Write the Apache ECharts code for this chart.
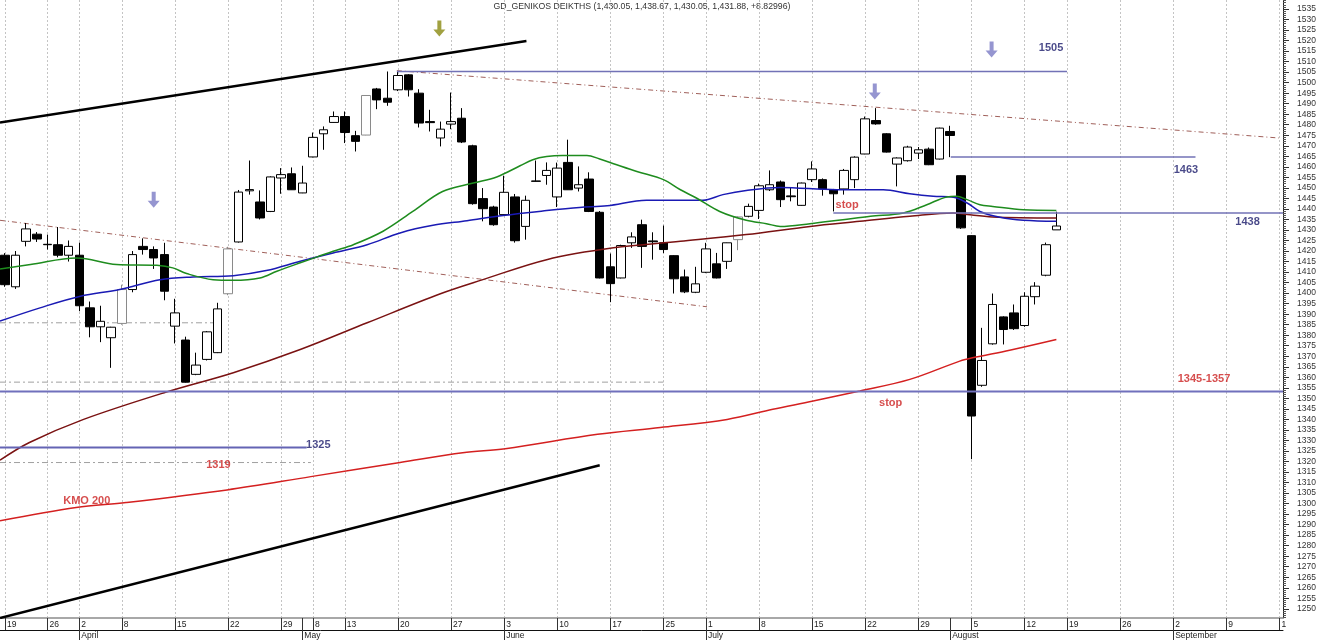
<!DOCTYPE html>
<html><head><meta charset="utf-8">
<script src="https://cdn.jsdelivr.net/npm/echarts@6/dist/echarts.min.js"></script>
<style>html,body{margin:0;padding:0;background:#fff}#c{width:1320px;height:640px}</style>
</head><body><div id="c"></div>
<script>
const titleText = 'GD_GENIKOS DEIKTHS (1,430.05, 1,438.67, 1,430.05, 1,431.88, +8.82996)';
// daily OHLC, one entry per trading-day slot (slot 0 = 19 March)
const opens  = [1418,1403,1424.6,1428,1423.2,1423,1418,1418,1393,1384,1378.8,1385.6,1401.7,1422.2,1420.7,1418.3,1384.3,1377.7,1361.4,1368.5,1371.7,1399.7,1424.3,1448.6,1443.3,1438.8,1454.7,1456.7,1447.6,1464.7,1475.7,1481.1,1483.9,1474.8,1475.1,1497,1492.6,1496.6,1503.7,1495,1481.5,1473.7,1480.3,1483.1,1470,1444.9,1440.9,1437.3,1445.7,1431.7,1453.3,1455.9,1445.7,1462.1,1449.9,1454.2,1438.4,1412.5,1407.2,1423.9,1432.5,1424.8,1423.9,1417.8,1407.7,1400.4,1409.9,1413.9,1415.1,1425.4,1436.5,1439.3,1449.1,1452.8,1446.2,1441.7,1453.9,1453.9,1449.1,1449.5,1453.9,1466.1,1482,1475.7,1461.3,1462.9,1466.5,1468.4,1463.7,1476.8,1455.8,1427.3,1356.2,1375.9,1388.7,1390.6,1384.6,1398.3,1408.5,1430.05];
const highs  = [1419,1420,1433.3,1429,1427.8,1431.4,1425,1424,1396,1394,1384,1404,1420,1426,1422.2,1423.9,1397.3,1379.3,1371.7,1382,1395.4,1422,1449,1463,1448.8,1455.5,1459.4,1459.7,1460.5,1476.3,1479.2,1486.3,1486.3,1477.1,1494,1497.5,1505.3,1505.3,1504,1496.9,1487.1,1481.5,1495.3,1487.9,1470.5,1449.9,1441.5,1455.8,1447.1,1446.3,1463,1462.1,1462,1472.9,1460.2,1457.4,1439,1418.8,1423,1428.9,1434.9,1428.9,1432.1,1418,1411.2,1412.5,1423.9,1419.1,1424,1436.5,1442.5,1452,1458.3,1453.5,1450.4,1452.5,1462.6,1454.5,1449.5,1459,1465,1483.9,1487.9,1476,1464.5,1470,1469.4,1469.2,1478.6,1479.5,1456,1427.5,1383.5,1399.8,1389,1394.6,1400.4,1405.2,1424,1438.67];
const lows   = [1403,1402,1422.2,1424.3,1420.7,1417,1415,1391.4,1379,1376.7,1364.5,1385,1400.4,1418.3,1411.5,1396.6,1376.1,1357.5,1361,1368,1371.5,1399,1424,1446.8,1435,1438.5,1447.2,1449,1447.5,1464.5,1468.1,1481,1471.3,1467.3,1475,1487.4,1489,1496,1493.4,1478.7,1476.8,1469.7,1477.9,1471.3,1442,1434.1,1432,1437,1424,1425.4,1453,1451.5,1440.9,1449,1448.3,1438.5,1407,1395.7,1407,1421.5,1412,1415.9,1419,1399.8,1400,1400,1409.5,1407,1411.5,1420.4,1436,1435.2,1448.5,1440.9,1443.6,1441.5,1452.8,1446.3,1438.8,1446.8,1449.9,1466,1480,1466.8,1450.7,1462.5,1463.7,1460.8,1463.5,1464.6,1430.5,1321.1,1355.5,1375.5,1375.6,1382.5,1384,1394.6,1408,1430.05];
const closes = [1404,1418,1430.5,1425.7,1423,1418,1422.2,1394,1384,1386.6,1383.8,1401.7,1418.3,1420.7,1416.7,1400.9,1390.6,1357.7,1365.8,1381.6,1392.5,1421,1448,1449.2,1435.7,1455.2,1456.3,1449.1,1452.3,1474,1477.6,1483.9,1476.3,1472.1,1493.9,1491.8,1490.7,1503.4,1496.6,1480.8,1481,1477.9,1481.5,1471.8,1442.5,1440.1,1432.5,1447.9,1424.9,1444.1,1453.1,1458.3,1459.4,1449.1,1451.5,1438.8,1407.2,1404.5,1422.6,1426.7,1422.2,1424.4,1420.7,1406.8,1400.6,1404.4,1421,1407.2,1423.9,1436.2,1441.2,1451,1451.5,1444.4,1445.8,1452.3,1459,1449.5,1447.2,1458.3,1464.6,1482.8,1480.4,1467,1464.2,1469.4,1468.1,1461,1478.4,1474.9,1431,1341.6,1368,1394.6,1382.7,1383.1,1398.5,1403.3,1423,1431.88];
const greyCandles = [11, 21, 34, 69];

// axis labels
const weekTicks  = [0,4,7,11,16,21,26,29,32,37,42,47,52,57,62,66,71,76,81,86,91,96,100,105,110,115,120];
const weekLabels = ['19','26','2','8','15','22','29','8','13','20','27','3','10','17','25','1','8','15','22','29','5','12','19','26','2','9','1'];
const monthTicks  = [7,28,47,66,89,110];
const monthLabels = ['April','May','June','July','August','September'];
const yLabelValues = []; for (let v = 1250; v <= 1535; v += 5) yLabelValues.push(v);
const yMinorValues = []; for (let v = 1246; v <= 1539; v += 1) if (v % 5) yMinorValues.push(v);

// moving averages: [slot, value]
const ma20 = [[-0.47,1411.5],[2.4,1413.6],[6.75,1416.7],[10.5,1413.6],[14.3,1413.2],[15.8,1412.0],[17.1,1409.3],[19.6,1406.4],[21.5,1406.1],[24.0,1407.2],[25.6,1410.4],[27.8,1414.4],[29.4,1417.2],[30.9,1419.9],[32.8,1423.0],[35.6,1429.4],[38.4,1438.8],[41.2,1448.3],[44.1,1452.3],[46.3,1455.2],[48.5,1460.5],[49.7,1463.4],[51.0,1464.9],[52.5,1465.4],[54.8,1465.4],[56.0,1463.7],[57.3,1461.5],[59.5,1457.8],[62.0,1453.9],[63.6,1449.1],[65.1,1445.2],[67.3,1438.8],[69.8,1434.6],[71.7,1433.0],[73.0,1431.7],[75.8,1433.0],[78.9,1434.9],[81.5,1436.5],[84.6,1438.1],[86.8,1442.0],[88.7,1445.7],[89.6,1446.0],[90.6,1444.4],[91.8,1442.0],[93.0,1441.2],[95.9,1439.6],[99.0,1439.3]];
const ma50 = [[-0.47,1386.7],[3.3,1393.0],[7.1,1398.5],[10.8,1401.7],[14.6,1406.4],[17.7,1407.7],[21.5,1408.3],[24.6,1410.7],[27.8,1415.1],[30.9,1419.1],[34.1,1423.0],[37.2,1428.6],[40.3,1432.2],[43.5,1434.4],[46.9,1436.9],[51.0,1439.2],[54.1,1440.7],[56.7,1441.5],[60.4,1444.1],[65.7,1444.1],[67.6,1446.8],[69.8,1448.8],[73.0,1450.2],[78.3,1449.1],[82.7,1449.1],[85.2,1447.2],[87.4,1446.0],[89.3,1445.5],[90.6,1442.8],[91.8,1438.8],[93.7,1436.0],[95.9,1434.6],[99.0,1434.1]];
const ma100 = [[-0.47,1320.6],[2.3,1329.0],[7.4,1340.0],[15.2,1353.0],[21.5,1362.2],[27.8,1373.2],[34.1,1385.9],[41.0,1399.7],[45.0,1406.4],[51.0,1415.9],[57.3,1421.5],[63.6,1424.6],[69.8,1427.8],[75.8,1431.7],[80.5,1434.1],[85.2,1436.5],[89.3,1438.1],[90.6,1437.3],[93.0,1436.2],[99.0,1435.7]];
const ma200 = [[-0.47,1291.8],[6.7,1298.1],[11.4,1300.5],[20.9,1306.5],[28.8,1312.8],[37.2,1319.5],[43.1,1324.2],[47.1,1326.1],[55.8,1332.9],[61.7,1336.1],[68.0,1340.0],[72.3,1344.8],[76.1,1348.7],[80.5,1353.5],[85.2,1359.0],[89.9,1367.7],[91.1,1369.3],[94.6,1372.9],[99.0,1378.0]];

// drawn trendlines and levels: [slot, value] end points
const upperTrend = [[-0.47,1481.1],[49.1,1519.8]];
const lowerTrend = [[-0.47,1245.6],[56.0,1318.2]];
const upperDash  = [[36.9,1505.7],[119.96,1473.7]];
const lowerDash  = [[-0.47,1434.6],[66.1,1393.5]];
const level1505  = [[36.9,1505.3],[100,1505.3]];
const level1463  = [[89.05,1464.7],[112.1,1464.7]];
const level1438  = [[78,1438.1],[120.34,1438.1]];
const level1353  = [[-0.47,1353.2],[120.34,1353.2]];
const level1325  = [[-0.47,1326.6],[28.4,1326.6]];
const grey1386   = [[-0.47,1385.9],[20.4,1385.9]];
const grey1357   = [[-0.47,1357.7],[62.0,1357.7]];
const grey1319   = [[-0.47,1319.5],[28.8,1319.5]];

const blueArrows  = [[14.0,1444.4],[81.9,1495.8],[92.9,1515.8]];
const oliveArrows = [[40.9,1525.7]];
const navyNotes = [[98.5,1516.7,'1505'],[111.2,1458.6,'1463'],[117.0,1433.7,'1438'],[29.5,1327.9,'1325']];
const redNotes  = [[112.9,1359.0,'1345-1357'],[20.1,1318.2,'1319'],[7.7,1301.1,'KMO 200'],[79.3,1441.8,'stop'],[83.4,1347.6,'stop']];

const FONT = "'Liberation Sans', Arial, sans-serif";
const XMIN = -0.471, XMAX = 120.34, YMIN = 1245.63, YMAX = 1539.27;

const candleData = opens.map((o, i) => {
  const item = { value: [i, o, closes[i], lows[i], highs[i]] };
  if (greyCandles.includes(i)) item.itemStyle = { borderColor: '#8a8a8a' };
  return item;
});

function seg(data, color, width, type, z) {
  return { type: 'line', data: data, showSymbol: false, symbol: 'none', silent: true, z: z || 5,
    lineStyle: { color: color, width: width, type: type || 'solid' }, animation: false };
}
function maLine(data, color) {
  return { type: 'line', data: data, showSymbol: false, symbol: 'none', smooth: 0.35, silent: true, z: 4,
    lineStyle: { color: color, width: 1.5 }, animation: false };
}
const arrowPath = 'path://M4,0 L8,0 L8,9 L12,9 L6,16 L0,9 L4,9 Z';
function notes(data, color) {
  return { type: 'scatter', data: data, symbolSize: 0, silent: true, z: 10,
    label: { show: true, position: 'inside', formatter: p => p.value[2], color: color,
      fontWeight: 'bold', fontSize: 11, fontFamily: FONT } };
}

const baseX = { type: 'value', min: XMIN, max: XMAX, gridIndex: 0, position: 'bottom' };
const chart = echarts.init(document.getElementById('c'), null, { renderer: 'canvas' });
chart.setOption({
  animation: false,
  backgroundColor: '#fff',
  grid: { left: 0, right: 37, top: 0, bottom: 21, containLabel: false },
  graphic: [{ type: 'text', x: 642, y: 7, silent: true,
    style: { text: titleText, textAlign: 'center', textVerticalAlign: 'middle',
      fill: '#333', font: "8.7px " + FONT } }],
  xAxis: [
    Object.assign({}, baseX, {
      axisLine: { show: true, onZero: false, lineStyle: { color: '#a8a8a8', width: 2 } },
      axisTick: { show: true, customValues: weekTicks, length: 12, lineStyle: { color: '#333', width: 1 } },
      axisLabel: { show: true, customValues: weekTicks, margin: 2, align: 'left', padding: [0, 0, 0, 2],
        formatter: v => weekLabels[weekTicks.indexOf(Math.round(v))] || '', fontSize: 8.5, color: '#222', fontFamily: FONT },
      splitLine: { show: true, lineStyle: { color: '#c4c4c4', width: 1, type: [2, 2] } }
    }),
    Object.assign({}, baseX, {
      offset: 12,
      axisLine: { show: true, onZero: false, lineStyle: { color: '#111', width: 1 } },
      axisTick: { show: true, customValues: monthTicks, length: 10, lineStyle: { color: '#333', width: 1 } },
      axisLabel: { show: true, customValues: monthTicks, margin: 1, align: 'left', padding: [0, 0, 0, 2],
        formatter: v => monthLabels[monthTicks.indexOf(Math.round(v))] || '', fontSize: 8.5, color: '#222', fontFamily: FONT },
      splitLine: { show: false }
    }),
    Object.assign({}, baseX, {
      axisLine: { show: false, onZero: false },
      axisTick: { show: true, customValues: monthTicks, length: 12, lineStyle: { color: '#333', width: 1 } },
      axisLabel: { show: false }, splitLine: { show: false }
    })
  ],
  yAxis: [
    { type: 'value', position: 'right', min: YMIN, max: YMAX, scale: true,
      axisLine: { show: true, onZero: false, lineStyle: { color: '#222', width: 1 } },
      axisTick: { show: true, customValues: yLabelValues, length: 6, lineStyle: { color: '#333' } },
      axisLabel: { show: true, customValues: yLabelValues, margin: 14, fontSize: 8.5, color: '#333',
        fontFamily: FONT, formatter: v => String(Math.round(v)) },
      splitLine: { show: false } },
    { type: 'value', position: 'right', min: YMIN, max: YMAX, scale: true,
      axisLine: { show: false, onZero: false },
      axisTick: { show: true, customValues: yMinorValues, length: 3, lineStyle: { color: '#555' } },
      axisLabel: { show: false }, splitLine: { show: false } }
  ],
  series: [
    seg(grey1386, '#a0a0a0', 1, [6, 3, 2, 3], 2),
    seg(grey1357, '#a0a0a0', 1, [6, 3, 2, 3], 2),
    seg(grey1319, '#a0a0a0', 1, [6, 3, 2, 3], 2),
    seg(upperDash, '#a0605a', 1, [5, 3, 1, 3], 2),
    seg(lowerDash, '#a0605a', 1, [5, 3, 1, 3], 2),
    { type: 'candlestick', data: candleData, encode: { x: 0, y: [1, 2, 3, 4] }, barWidth: 9, z: 3,
      itemStyle: { color: '#fff', color0: '#000', borderColor: '#000', borderColor0: '#000', borderWidth: 1 } },
    maLine(ma200, '#d42020'),
    maLine(ma100, '#7a1212'),
    maLine(ma50, '#1a1ab4'),
    maLine(ma20, '#1e8c1e'),
    seg(upperTrend, '#000', 2.5, 'solid', 5),
    seg(lowerTrend, '#000', 2.5, 'solid', 5),
    seg(level1505, '#7272b6', 1.5),
    seg(level1463, '#7272b6', 1.5),
    seg(level1438, '#7272b6', 1.5),
    seg(level1353, '#7070bc', 2),
    seg(level1325, '#6464b4', 2),
    { type: 'scatter', data: blueArrows, symbol: arrowPath, symbolSize: [12, 16], silent: true, z: 9,
      itemStyle: { color: '#7a7ac4' } },
    { type: 'scatter', data: oliveArrows, symbol: arrowPath, symbolSize: [12, 16], silent: true, z: 9,
      itemStyle: { color: '#8a8a10' } },
    notes(navyNotes, '#1c1c6c'),
    notes(redNotes, '#cc2222')
  ]
});
</script></body></html>
